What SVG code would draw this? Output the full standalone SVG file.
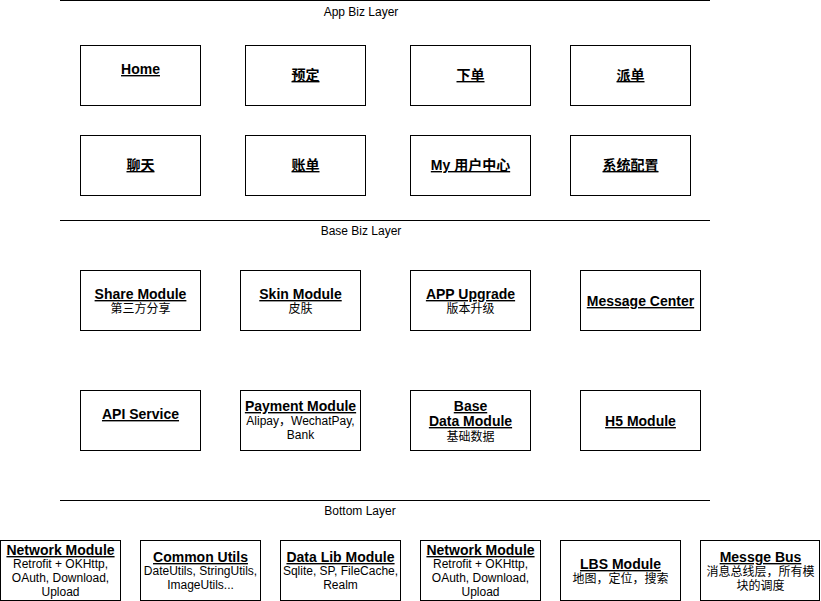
<svg xmlns="http://www.w3.org/2000/svg" width="821" height="601" viewBox="0 0 821 601">
<style>
text{font-family:"Liberation Sans","Noto Sans CJK SC",Arial,sans-serif;font-size:12px;fill:#000;text-anchor:middle}
.b{font-weight:bold;font-size:14px;text-decoration:underline}
.box{fill:#fff;stroke:#000;stroke-width:1}
.sep{stroke:#000;stroke-width:1}
</style>
<rect width="821" height="601" fill="#fff"/>
<g id="layers">
<line class="sep" x1="60" y1="0.5" x2="710" y2="0.5"/>
<text x="361" y="16">App Biz Layer</text>
<line class="sep" x1="60" y1="220.5" x2="710" y2="220.5"/>
<text x="361" y="235">Base Biz Layer</text>
<line class="sep" x1="60" y1="500.5" x2="710" y2="500.5"/>
<text x="360" y="515">Bottom Layer</text>
</g>
<g id="home"><rect class="box" x="80.5" y="45.5" width="120" height="60"/><text class="b" x="140.5" y="74">Home</text></g>
<g id="yuding"><rect class="box" x="245.5" y="45.5" width="120" height="60"/><text class="b" x="305.5" y="80">预定</text></g>
<g id="xiadan"><rect class="box" x="410.5" y="45.5" width="120" height="60"/><text class="b" x="470.5" y="80">下单</text></g>
<g id="paidan"><rect class="box" x="570.5" y="45.5" width="120" height="60"/><text class="b" x="630.5" y="80">派单</text></g>
<g id="liaotian"><rect class="box" x="80.5" y="135.5" width="120" height="60"/><text class="b" x="140.5" y="170">聊天</text></g>
<g id="zhangdan"><rect class="box" x="245.5" y="135.5" width="120" height="60"/><text class="b" x="305.5" y="170">账单</text></g>
<g id="my"><rect class="box" x="410.5" y="135.5" width="120" height="60"/><text class="b" x="470.5" y="170">My 用户中心</text></g>
<g id="config"><rect class="box" x="570.5" y="135.5" width="120" height="60"/><text class="b" x="630.5" y="170">系统配置</text></g>
<g id="share"><rect class="box" x="80.5" y="270.5" width="120" height="60"/><text class="b" x="140.5" y="299">Share Module</text><text x="140.5" y="313">第三方分享</text></g>
<g id="skin"><rect class="box" x="240.5" y="270.5" width="120" height="60"/><text class="b" x="300.5" y="299">Skin Module</text><text x="300.5" y="313">皮肤</text></g>
<g id="upgrade"><rect class="box" x="410.5" y="270.5" width="120" height="60"/><text class="b" x="470.5" y="299">APP Upgrade</text><text x="470.5" y="313">版本升级</text></g>
<g id="msgcenter"><rect class="box" x="580.5" y="270.5" width="120" height="60"/><text class="b" x="640.5" y="306">Message Center</text></g>
<g id="api"><rect class="box" x="80.5" y="390.5" width="120" height="60"/><text class="b" x="140.5" y="419">API Service</text></g>
<g id="payment"><rect class="box" x="240.5" y="390.5" width="120" height="60"/><text class="b" x="300.5" y="411">Payment Module</text><text x="300.5" y="425">Alipay，WechatPay,</text><text x="300.5" y="439">Bank</text></g>
<g id="basedata"><rect class="box" x="410.5" y="390.5" width="120" height="60"/><text class="b" x="470.5" y="411">Base</text><text class="b" x="470.5" y="426">Data Module</text><text x="470.5" y="441">基础数据</text></g>
<g id="h5"><rect class="box" x="580.5" y="390.5" width="120" height="60"/><text class="b" x="640.5" y="426">H5 Module</text></g>
<g id="network1"><rect class="box" x="0.5" y="540.5" width="120" height="60"/><text class="b" x="60.5" y="555">Network Module</text><text x="60.5" y="568">Retrofit + OKHttp,</text><text x="60.5" y="582">OAuth, Download,</text><text x="60.5" y="596">Upload</text></g>
<g id="common"><rect class="box" x="140.5" y="540.5" width="120" height="60"/><text class="b" x="200.5" y="562">Common Utils </text><text x="200.5" y="575">DateUtils, StringUtils,</text><text x="200.5" y="589">ImageUtils...</text></g>
<g id="datalib"><rect class="box" x="280.5" y="540.5" width="120" height="60"/><text class="b" x="340.5" y="562">Data Lib Module</text><text x="340.5" y="575">Sqlite, SP, FileCache,</text><text x="340.5" y="589">Realm</text></g>
<g id="network2"><rect class="box" x="420.5" y="540.5" width="120" height="60"/><text class="b" x="480.5" y="555">Network Module</text><text x="480.5" y="568">Retrofit + OKHttp,</text><text x="480.5" y="582">OAuth, Download,</text><text x="480.5" y="596">Upload</text></g>
<g id="lbs"><rect class="box" x="560.5" y="540.5" width="120" height="60"/><text class="b" x="620.5" y="569">LBS Module</text><text x="620.5" y="583">地图，定位，搜索</text></g>
<g id="bus"><rect class="box" x="700.5" y="540.5" width="119" height="60"/><text class="b" x="760.5" y="562">Messge Bus</text><text x="760.5" y="576">消息总线层，所有模</text><text x="760.5" y="590">块的调度</text></g>
<g id="connectors"></g>
</svg>
